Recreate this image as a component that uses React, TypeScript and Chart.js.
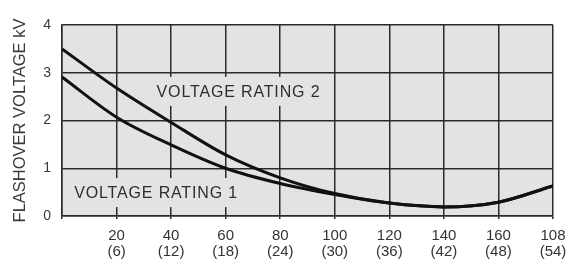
import React, { useEffect, useRef } from 'react';
import { Chart, registerables } from 'chart.js';

Chart.register(...registerables);

// Data
const xValues = [0, 20, 40, 60, 80, 100, 120, 140, 160, 180];
const rating2 = [3.5, 2.68, 1.96, 1.28, 0.8, 0.47, 0.27, 0.19, 0.29, 0.63];
const rating1 = [2.91, 2.07, 1.49, 1.0, 0.68, 0.45, 0.27, 0.19, 0.29, 0.63];
const xTickMain = ['', '20', '40', '60', '80', '100', '120', '140', '160', '108'];
const xTickSub = ['', '(6)', '(12)', '(18)', '(24)', '(30)', '(36)', '(42)', '(48)', '(54)'];
const seriesNames = ['VOLTAGE RATING 1', 'VOLTAGE RATING 2'];
const seriesLabelAt = [
  { x: 34.5, y: 0.48 },
  { x: 64.7, y: 2.6 },
];
const yTitle = 'FLASHOVER VOLTAGE kV';

const FONT = '"Liberation Sans", Arial, sans-serif';
const PLOT_BG = '#e3e3e3';
const GRID = '#2b2b2b';
const INK = '#111111';

const bgPlugin = {
  id: 'plotBg',
  beforeDraw(chart: any) {
    const { ctx, chartArea: a } = chart;
    ctx.save();
    ctx.fillStyle = '#ffffff';
    ctx.fillRect(0, 0, chart.width, chart.height);
    ctx.fillStyle = PLOT_BG;
    ctx.fillRect(a.left, a.top, a.right - a.left, a.bottom - a.top);
    ctx.restore();
  },
};

const labelPlugin = {
  id: 'seriesLabels',
  beforeDatasetsDraw(chart: any) {
    const { ctx } = chart;
    const xs = chart.scales.x;
    const ys = chart.scales.y;
    ctx.save();
    ctx.font = `16px ${FONT}`;
    try { (ctx as any).letterSpacing = '0.85px'; } catch (e) {}
    ctx.textAlign = 'center';
    ctx.textBaseline = 'middle';
    seriesNames.forEach((name, i) => {
      const px = xs.getPixelForValue(seriesLabelAt[i].x);
      const py = ys.getPixelForValue(seriesLabelAt[i].y);
      const w = ctx.measureText(name).width;
      ctx.fillStyle = PLOT_BG;
      ctx.fillRect(px - w / 2 - 4, py - 15, w + 8, 29);
      ctx.fillStyle = '#2e2e2e';
      ctx.fillText(name, px, py + 1);
    });
    ctx.restore();
  },
};

export default function App() {
  const ref = useRef<HTMLCanvasElement>(null);
  useEffect(() => {
    if (!ref.current) return;
    const mk = (vals: number[]) => xValues.map((x, i) => ({ x, y: vals[i] }));
    const chart = new Chart(ref.current, {
      type: 'line',
      data: {
        datasets: [
          {
            label: seriesNames[1],
            data: mk(rating2),
            borderColor: INK,
            borderWidth: 3,
            pointRadius: 0,
            cubicInterpolationMode: 'monotone',
            fill: false,
          },
          {
            label: seriesNames[0],
            data: mk(rating1),
            borderColor: INK,
            borderWidth: 3,
            pointRadius: 0,
            cubicInterpolationMode: 'monotone',
            fill: false,
          },
        ],
      },
      options: {
        animation: false,
        responsive: false,
        maintainAspectRatio: false,
        layout: { padding: { top: 25, right: 15, left: 0, bottom: 0 } },
        plugins: { legend: { display: false }, tooltip: { enabled: false } },
        scales: {
          x: {
            type: 'linear',
            min: 0,
            max: 180,
            afterFit: (s: any) => { s.height = 49; s.paddingLeft = 0; s.paddingRight = 0; },
            grid: { color: GRID, lineWidth: 1.5, tickLength: 3, drawTicks: true, tickColor: GRID },
            border: { color: GRID, width: 1.5 },
            ticks: {
              stepSize: 20,
              maxRotation: 0,
              autoSkip: false,
              color: '#333',
              padding: 9,
              font: { family: FONT, size: 15, lineHeight: 1.07 },
              callback: (v: any) => {
                const i = xValues.indexOf(Number(v));
                if (i <= 0) return '';
                return [xTickMain[i], xTickSub[i]];
              },
            },
          },
          y: {
            min: 0,
            max: 4,
            afterFit: (s: any) => { s.width = 62; },
            grid: { color: GRID, lineWidth: 1.5, drawTicks: false },
            border: { color: GRID, width: 1.5 },
            ticks: {
              stepSize: 1,
              color: '#3a3a3a',
              padding: 11,
              font: { family: FONT, size: 14 },
            },
            title: {
              display: true,
              text: yTitle,
              color: '#3a3a3a',
              font: { family: FONT, size: 16.5, lineHeight: 1.2 },
              padding: { top: 11, bottom: 0 },
            },
          },
        },
      },
      plugins: [bgPlugin, labelPlugin],
    });
    return () => chart.destroy();
  }, []);
  return (
    <div style={{ position: 'fixed', left: 0, top: 0, width: 568, height: 265, background: '#fff' }}>
      <canvas ref={ref} width={568} height={265} style={{ width: 568, height: 265, display: 'block' }} />
    </div>
  );
}
